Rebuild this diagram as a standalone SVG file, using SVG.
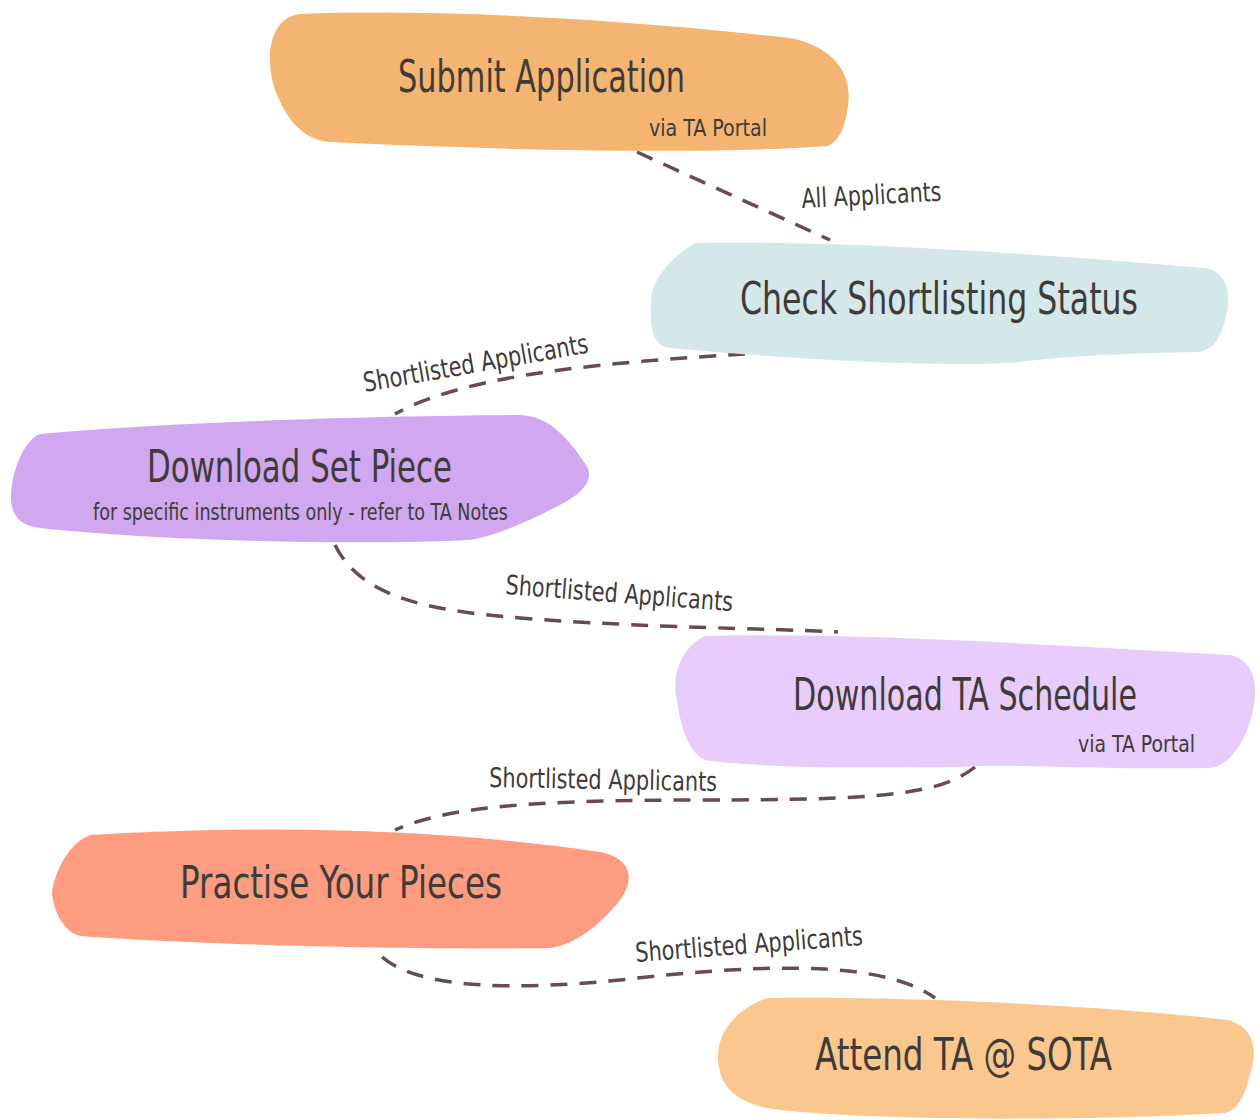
<svg xmlns="http://www.w3.org/2000/svg" width="1260" height="1120" viewBox="0 0 1260 1120">
<style>
.t{font-family:"Liberation Sans Narrow","DejaVu Sans Condensed","Liberation Sans",sans-serif;fill:#3f3b38}
.big{font-size:44px}
.sub{font-size:23px}
.lab{font-size:27px}
.c{fill:none;stroke:#6a4a55;stroke-width:3.5;stroke-dasharray:17 12}
</style>
<rect width="1260" height="1120" fill="#ffffff"/>
<g id="connectors">
<path class="c" d="M 637 152 L 830 240"/>
<path class="c" d="M 745 354 C 620 362 470 372 395 414"/>
<path class="c" d="M 335 545 C 360 595 420 610 520 618 C 650 628 760 628 838 632"/>
<path class="c" d="M 975 767 C 940 795 880 800 700 800 C 550 800 450 805 395 830"/>
<path class="c" d="M 382 957 C 420 990 520 990 620 980 C 750 965 880 958 935 998"/>
</g>
<g id="edge-labels">
<text class="t lab" x="802" y="208" textLength="140" lengthAdjust="spacingAndGlyphs" transform="rotate(-3 802 208)">All Applicants</text>
<text class="t lab" x="365" y="392" textLength="228" lengthAdjust="spacingAndGlyphs" transform="rotate(-10 365 392)">Shortlisted Applicants</text>
<text class="t lab" x="505" y="594" textLength="228" lengthAdjust="spacingAndGlyphs" transform="rotate(4.3 505 594)">Shortlisted Applicants</text>
<text class="t lab" x="489" y="787" textLength="228" lengthAdjust="spacingAndGlyphs" transform="rotate(1 489 787)">Shortlisted Applicants</text>
<text class="t lab" x="636" y="962" textLength="228" lengthAdjust="spacingAndGlyphs" transform="rotate(-4.3 636 962)">Shortlisted Applicants</text>
</g>
<g id="submit">
<path fill="#f4b472" d="M 300 14 C 450 8 650 22 790 38 C 840 48 852 80 848 105 C 846 125 840 140 828 146 C 700 155 500 150 330 142 C 300 140 285 115 275 90 C 265 60 268 18 300 14 Z"/>
<text class="t big" x="398" y="92" textLength="287" lengthAdjust="spacingAndGlyphs">Submit Application</text>
<text class="t sub" x="649" y="136" textLength="118" lengthAdjust="spacingAndGlyphs">via TA Portal</text>
</g>
<g id="check">
<path fill="#d4e8e9" d="M 695 243 C 850 240 1050 255 1205 268 C 1230 272 1232 300 1225 320 C 1220 340 1212 352 1195 352 C 1100 354 1050 358 1020 362 C 950 368 800 360 670 348 C 652 345 650 330 651 300 C 652 280 670 258 695 243 Z"/>
<text class="t big" x="740" y="314" textLength="398" lengthAdjust="spacingAndGlyphs">Check Shortlisting Status</text>
</g>
<g id="setpiece">
<path fill="#d1a7ef" d="M 40 434 C 200 420 400 416 520 415 C 550 416 570 440 588 468 C 592 480 585 492 560 505 C 530 520 500 535 470 540 C 350 546 150 540 40 528 C 15 525 8 510 12 485 C 15 465 25 440 40 434 Z"/>
<text class="t big" x="147" y="482" textLength="305" lengthAdjust="spacingAndGlyphs">Download Set Piece</text>
<text class="t sub" x="93" y="520" textLength="415" lengthAdjust="spacingAndGlyphs">for specific instruments only - refer to TA Notes</text>
</g>
<g id="schedule">
<path fill="#e7ccfc" d="M 705 636 C 850 632 1050 645 1230 655 C 1252 660 1258 680 1254 705 C 1250 730 1235 765 1210 768 C 1100 770 1000 763 960 767 C 850 768 760 768 705 760 C 685 750 680 720 676 695 C 672 670 685 645 705 636 Z"/>
<text class="t big" x="793" y="710" textLength="344" lengthAdjust="spacingAndGlyphs">Download TA Schedule</text>
<text class="t sub" x="1078" y="752" textLength="117" lengthAdjust="spacingAndGlyphs">via TA Portal</text>
</g>
<g id="practise">
<path fill="#fd9c80" d="M 90 835 C 250 826 420 826 600 852 C 632 858 635 880 620 900 C 600 925 575 945 550 948 C 420 950 200 945 80 936 C 65 932 55 915 52 895 C 52 880 65 845 90 835 Z"/>
<text class="t big" x="180" y="898" textLength="322" lengthAdjust="spacingAndGlyphs">Practise Your Pieces</text>
</g>
<g id="attend">
<path fill="#fac78e" d="M 768 998 C 900 996 1100 1005 1228 1020 C 1255 1028 1258 1050 1250 1075 C 1245 1095 1238 1110 1225 1113 C 1100 1120 900 1122 780 1110 C 740 1105 720 1090 718 1060 C 716 1040 730 1010 768 998 Z"/>
<text class="t big" x="815" y="1070" textLength="297" lengthAdjust="spacingAndGlyphs">Attend TA @ SOTA</text>
</g>
</svg>
